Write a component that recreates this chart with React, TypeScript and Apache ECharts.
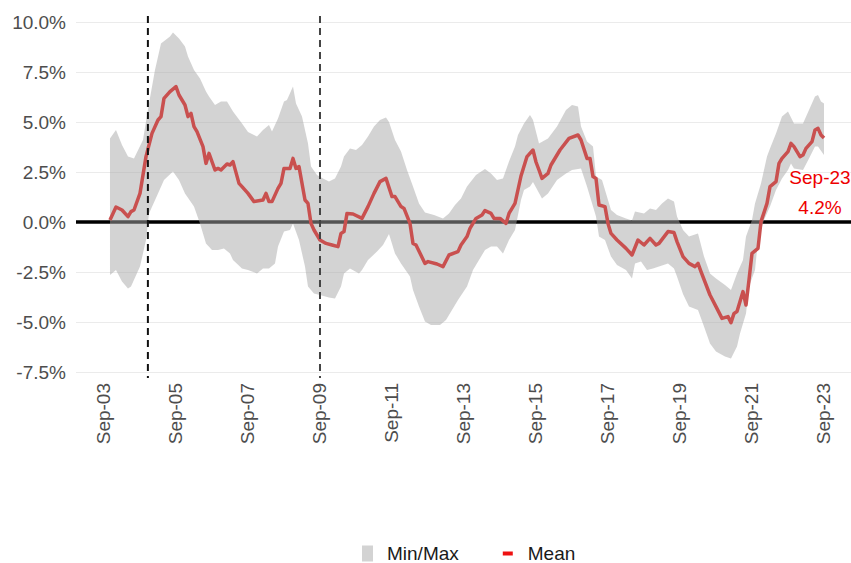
import React, { useEffect, useRef } from "react";
import * as echarts from "echarts";

// Monthly mean of the panel (%, date = YYYY-MM)
const meanData: [string, number][] = [
  ["2003-11", 0.1], ["2004-01", 0.75], ["2004-03", 0.6], ["2004-05", 0.27], ["2004-06", 0.52],
  ["2004-07", 0.6], ["2004-09", 1.43], ["2004-11", 3.27], ["2005-01", 4.43], ["2005-03", 5.1],
  ["2005-04", 5.27], ["2005-05", 6.18], ["2005-07", 6.52], ["2005-09", 6.77], ["2005-10", 6.35],
  ["2005-12", 5.85], ["2006-01", 5.27], ["2006-02", 5.43], ["2006-03", 4.77], ["2006-04", 4.52],
  ["2006-06", 3.77], ["2006-07", 2.93], ["2006-08", 3.43], ["2006-10", 2.6], ["2006-11", 2.68],
  ["2006-12", 2.6], ["2007-02", 2.9], ["2007-03", 2.85], ["2007-04", 3.02], ["2007-06", 1.93],
  ["2007-07", 1.77], ["2007-09", 1.43], ["2007-11", 1.02], ["2008-02", 1.1], ["2008-03", 1.43],
  ["2008-04", 1.02], ["2008-05", 1.02], ["2008-07", 1.68], ["2008-08", 1.93], ["2008-09", 2.68],
  ["2008-11", 2.68], ["2008-12", 3.18], ["2009-01", 2.68], ["2009-02", 2.77], ["2009-04", 1.1],
  ["2009-05", 0.93], ["2009-06", -0.07], ["2009-07", -0.4], ["2009-09", -0.9], ["2009-11", -1.07],
  ["2010-01", -1.15], ["2010-03", -1.23], ["2010-04", -0.57], ["2010-05", -0.48], ["2010-06", 0.43],
  ["2010-08", 0.4], ["2010-11", 0.18], ["2011-01", 0.77], ["2011-03", 1.43], ["2011-05", 2.02],
  ["2011-07", 2.18], ["2011-09", 1.27], ["2011-10", 1.27], ["2011-12", 0.77], ["2012-01", 0.68],
  ["2012-03", -0.07], ["2012-04", -1.07], ["2012-05", -1.15], ["2012-08", -2.07], ["2012-09", -1.98],
  ["2012-12", -2.1], ["2013-02", -2.23], ["2013-04", -1.65], ["2013-07", -1.48], ["2013-08", -1.15],
  ["2013-10", -0.73], ["2013-11", -0.32], ["2014-01", 0.18], ["2014-03", 0.35], ["2014-04", 0.57],
  ["2014-06", 0.43], ["2014-07", 0.18], ["2014-09", 0.18], ["2014-11", -0.07], ["2014-12", 0.43],
  ["2015-02", 0.93], ["2015-04", 2.3], ["2015-06", 3.27], ["2015-08", 3.6], ["2015-09", 3.0],
  ["2015-10", 2.6], ["2015-11", 2.18], ["2016-01", 2.43], ["2016-02", 2.85], ["2016-04", 3.35],
  ["2016-05", 3.6], ["2016-08", 4.18], ["2016-11", 4.35], ["2016-12", 4.1], ["2017-02", 3.18],
  ["2017-03", 3.18], ["2017-04", 2.27], ["2017-05", 2.18], ["2017-06", 0.85], ["2017-08", 0.77],
  ["2017-09", -0.07], ["2017-10", -0.57], ["2017-12", -0.9], ["2018-03", -1.32], ["2018-05", -1.65],
  ["2018-07", -0.9], ["2018-09", -1.15], ["2018-11", -0.82], ["2019-01", -1.15], ["2019-02", -1.07],
  ["2019-05", -0.48], ["2019-07", -0.53], ["2019-08", -0.98], ["2019-10", -1.73], ["2019-12", -2.07],
  ["2020-02", -2.23], ["2020-03", -2.07], ["2020-04", -2.48], ["2020-07", -3.65], ["2020-09", -4.23],
  ["2020-11", -4.82], ["2021-01", -4.73], ["2021-02", -5.03], ["2021-03", -4.57], ["2021-04", -4.48],
  ["2021-06", -3.48], ["2021-07", -4.15], ["2021-08", -2.9], ["2021-09", -1.57], ["2021-11", -1.32],
  ["2021-12", 0.02], ["2022-02", 0.93], ["2022-03", 1.77], ["2022-05", 2.02], ["2022-06", 2.93],
  ["2022-07", 3.18], ["2022-09", 3.52], ["2022-10", 3.93], ["2022-11", 3.77], ["2023-01", 3.27],
  ["2023-02", 3.35], ["2023-03", 3.68], ["2023-05", 4.02], ["2023-06", 4.6], ["2023-07", 4.68],
  ["2023-08", 4.35], ["2023-09", 4.2],
];

// Upper edge of the min/max ribbon
const maxData: [string, number][] = [
  ["2003-11", 4.18], ["2004-01", 4.6], ["2004-03", 3.85], ["2004-05", 3.27], ["2004-07", 3.18],
  ["2004-10", 4.1], ["2004-12", 5.93], ["2005-02", 7.6], ["2005-04", 8.93], ["2005-07", 9.27],
  ["2005-08", 9.47], ["2005-10", 9.18], ["2005-12", 8.77], ["2006-01", 8.27], ["2006-03", 7.6],
  ["2006-05", 7.18], ["2006-07", 6.52], ["2006-08", 6.27], ["2006-10", 5.85], ["2006-12", 6.02],
  ["2007-02", 6.02], ["2007-04", 5.52], ["2007-07", 4.93], ["2007-09", 4.5], ["2007-12", 4.27],
  ["2008-02", 4.6], ["2008-04", 4.85], ["2008-05", 4.52], ["2008-07", 5.18], ["2008-09", 6.02],
  ["2008-10", 6.1], ["2008-12", 6.77], ["2009-01", 5.93], ["2009-03", 5.27], ["2009-05", 3.93],
  ["2009-06", 2.77], ["2009-08", 2.35], ["2009-10", 2.18], ["2009-12", 2.02], ["2010-02", 2.18],
  ["2010-04", 2.77], ["2010-05", 3.27], ["2010-07", 3.68], ["2010-09", 3.6], ["2010-11", 3.85],
  ["2011-01", 4.27], ["2011-03", 4.77], ["2011-05", 5.1], ["2011-07", 5.23], ["2011-08", 5.0],
  ["2011-10", 4.1], ["2011-12", 3.52], ["2012-02", 2.6], ["2012-04", 1.77], ["2012-06", 0.93],
  ["2012-08", 0.47], ["2012-11", 0.35], ["2013-02", 0.18], ["2013-04", 0.43], ["2013-06", 0.85],
  ["2013-08", 1.18], ["2013-10", 1.77], ["2014-01", 2.35], ["2014-04", 2.65], ["2014-06", 2.43],
  ["2014-08", 2.1], ["2014-10", 2.18], ["2014-12", 3.02], ["2015-02", 3.77], ["2015-03", 4.35],
  ["2015-05", 4.93], ["2015-07", 5.35], ["2015-08", 5.1], ["2015-10", 3.93], ["2016-01", 4.18],
  ["2016-04", 4.77], ["2016-07", 5.6], ["2016-09", 5.85], ["2016-11", 5.77], ["2016-12", 4.77],
  ["2017-02", 4.02], ["2017-04", 3.77], ["2017-05", 2.27], ["2017-07", 2.1], ["2017-09", 1.1],
  ["2017-10", 0.6], ["2017-12", 0.35], ["2018-03", 0.18], ["2018-05", 0.07], ["2018-06", 0.52],
  ["2018-09", 0.43], ["2018-11", 0.68], ["2019-01", 0.6], ["2019-03", 0.93], ["2019-05", 1.18],
  ["2019-07", 1.02], ["2019-08", 0.27], ["2019-10", -0.4], ["2019-12", -0.73], ["2020-03", -0.57],
  ["2020-05", -1.73], ["2020-07", -2.57], ["2020-09", -2.82], ["2020-12", -3.15], ["2021-02", -3.4],
  ["2021-04", -2.57], ["2021-06", -1.9], ["2021-07", -0.73], ["2021-09", 0.1], ["2021-10", 0.93],
  ["2021-12", 1.93], ["2022-02", 3.27], ["2022-03", 3.68], ["2022-05", 4.43], ["2022-07", 5.27],
  ["2022-09", 5.52], ["2022-11", 4.93], ["2023-02", 4.93], ["2023-04", 5.6], ["2023-06", 6.27],
  ["2023-07", 6.35], ["2023-08", 6.02], ["2023-09", 5.93],
];

// Lower edge of the min/max ribbon
const minData: [string, number][] = [
  ["2003-11", -2.65], ["2004-01", -2.4], ["2004-03", -2.98], ["2004-05", -3.32], ["2004-06", -3.23],
  ["2004-09", -2.23], ["2004-11", -0.9], ["2004-12", 0.43], ["2005-03", 1.43], ["2005-05", 2.1],
  ["2005-08", 2.52], ["2005-10", 2.1], ["2005-12", 1.43], ["2006-03", 0.77], ["2006-05", -0.07],
  ["2006-06", -0.57], ["2006-07", -1.07], ["2006-09", -1.4], ["2006-11", -1.4], ["2007-01", -1.32],
  ["2007-03", -1.57], ["2007-04", -1.9], ["2007-07", -2.32], ["2007-09", -2.4], ["2007-12", -2.57],
  ["2008-02", -2.32], ["2008-04", -2.32], ["2008-06", -2.07], ["2008-07", -1.23], ["2008-09", -0.48],
  ["2008-11", -0.4], ["2008-12", -0.07], ["2009-02", -0.9], ["2009-04", -2.23], ["2009-05", -3.23],
  ["2009-07", -3.57], ["2009-09", -3.65], ["2009-12", -3.77], ["2010-02", -3.82], ["2010-04", -3.23],
  ["2010-05", -2.57], ["2010-07", -2.32], ["2010-10", -2.57], ["2010-11", -2.4], ["2011-01", -1.9],
  ["2011-04", -1.48], ["2011-06", -1.15], ["2011-08", -0.6], ["2011-10", -1.57], ["2011-12", -2.07],
  ["2012-03", -2.73], ["2012-04", -3.4], ["2012-06", -4.23], ["2012-08", -4.98], ["2012-10", -5.15],
  ["2013-01", -5.15], ["2013-03", -4.9], ["2013-05", -4.4], ["2013-07", -3.9], ["2013-10", -3.23],
  ["2013-12", -2.4], ["2014-02", -1.9], ["2014-04", -1.4], ["2014-06", -1.23], ["2014-08", -1.23],
  ["2014-10", -1.57], ["2014-12", -0.9], ["2015-02", -0.4], ["2015-04", 1.1], ["2015-05", 1.6],
  ["2015-07", 1.77], ["2015-08", 2.0], ["2015-11", 1.18], ["2016-01", 1.43], ["2016-04", 2.1],
  ["2016-07", 2.43], ["2016-09", 2.6], ["2016-12", 2.68], ["2017-02", 1.77], ["2017-03", 1.27],
  ["2017-05", 0.27], ["2017-06", -0.73], ["2017-08", -0.9], ["2017-10", -1.73], ["2017-12", -2.15],
  ["2018-03", -2.4], ["2018-05", -2.82], ["2018-06", -2.07], ["2018-08", -1.98], ["2018-10", -2.4],
  ["2018-12", -2.32], ["2019-02", -2.23], ["2019-05", -2.07], ["2019-07", -2.32], ["2019-08", -2.73],
  ["2019-10", -3.6], ["2019-12", -4.23], ["2020-03", -4.4], ["2020-05", -5.23], ["2020-07", -6.07],
  ["2020-09", -6.48], ["2020-12", -6.73], ["2021-02", -6.82], ["2021-04", -6.23], ["2021-05", -5.57],
  ["2021-07", -4.57], ["2021-08", -3.23], ["2021-10", -2.4], ["2021-11", -0.9], ["2022-01", 0.1],
  ["2022-03", 0.77], ["2022-05", 1.6], ["2022-07", 2.18], ["2022-09", 2.6], ["2022-10", 2.93],
  ["2022-11", 2.68], ["2023-02", 2.6], ["2023-04", 3.18], ["2023-06", 3.77], ["2023-07", 3.77],
  ["2023-09", 3.35],
];

// Dashed reference dates
const eventDates: string[] = ["2004-11-20", "2009-09-01"];
const eventColors: string[] = ["#111111", "#444444"];

// X tick labels (Sep of odd years)
const tickDates: string[] = [
  "2003-09", "2005-09", "2007-09", "2009-09", "2011-09", "2013-09",
  "2015-09", "2017-09", "2019-09", "2021-09", "2023-09",
];
const yTicks: number[] = [-7.5, -5, -2.5, 0, 2.5, 5, 7.5, 10];
const lastLabel = "Sep-23\n4.2%";

// month offset from Sep 2003
const toM = (s: string): number => {
  const p = s.split("-").map(Number);
  const day = p[2] ? (p[2] - 1) / 30 : 0;
  return (p[0] - 2003) * 12 + (p[1] - 9) + day;
};

const X_MIN = -9.33;
const X_MAX = 249;
const FONT = "Liberation Sans, Arial, sans-serif";
const FS = 19;

export default function App() {
  const ref = useRef<HTMLDivElement>(null);
  useEffect(() => {
    if (!ref.current) return;
    const chart = echarts.init(ref.current, null, { renderer: "svg" });
    const tickVals = tickDates.map(toM);
    const last = meanData[meanData.length - 1];
    const option: any = {
      animation: false,
      textStyle: { fontFamily: FONT },
      grid: { left: 76, right: 0, top: 22, bottom: 191, containLabel: false },
      xAxis: {
        type: "value",
        min: X_MIN,
        max: X_MAX,
        axisLine: { show: false },
        axisTick: { show: false },
        splitLine: { show: false },
        axisLabel: {
          customValues: tickVals,
          rotate: 90,
          margin: 11,
          fontSize: FS,
          color: "#4d4d4d",
          fontFamily: FONT,
          formatter: (v: number) => {
            const yy = (3 + Math.round(v / 12)) % 100;
            return "Sep-" + String(yy).padStart(2, "0");
          },
        },
      },
      yAxis: {
        type: "value",
        min: yTicks[0],
        max: yTicks[yTicks.length - 1],
        interval: 2.5,
        axisLine: { show: false },
        axisTick: { show: false },
        splitLine: { lineStyle: { color: "#ebebeb", width: 1 } },
        axisLabel: {
          margin: 10,
          fontSize: FS,
          color: "#4d4d4d",
          fontFamily: FONT,
          formatter: (v: number) => v.toFixed(1) + "%",
        },
      },
      legend: {
        left: 357,
        top: 539,
        padding: [5, 5, 0, 5],
        itemWidth: 20,
        itemHeight: 16,
        itemGap: 44,
        textStyle: { fontSize: FS, lineHeight: 19, color: "#1a1a1a", fontFamily: FONT },
        data: [
          {
            name: "Min/Max",
            icon: "path://M0,0 M20,16 M0,0 h11 v16 h-11 z",
            itemStyle: { color: "#d3d3d3" },
          },
          {
            name: "Mean",
            icon: "path://M0,0 M20,16 M0,6 h10 v4 h-10 z",
            itemStyle: { color: "#ee1111" },
          },
        ],
      },
      series: [
        {
          type: "line",
          name: "zero",
          z: 1,
          silent: true,
          symbol: "none",
          data: [[X_MIN, 0], [X_MAX, 0]],
          lineStyle: { color: "#000", width: 3.5 },
        },
        {
          type: "custom",
          name: "Min/Max",
          z: 2,
          silent: true,
          data: [[0, 0]],
          itemStyle: { color: "#d3d3d3" },
          renderItem: (_p: any, api: any) => {
            const up = maxData.map(([d, v]) => api.coord([toM(d), v]));
            const lo = minData
              .slice()
              .reverse()
              .map(([d, v]) => api.coord([toM(d), v]));
            return {
              type: "polygon",
              shape: { points: up.concat(lo) },
              style: { fill: "rgba(168,168,168,0.5)" },
            };
          },
        },
        {
          type: "line",
          name: "Mean",
          z: 3,
          symbol: "none",
          data: meanData.map(([d, v]) => [toM(d), v]),
          itemStyle: { color: "#ee1111" },
          lineStyle: { color: "#c9504f", width: 3.5, join: "round" },
          markPoint: {
            symbol: "circle",
            symbolSize: 0,
            data: [{ coord: [toM(last[0]), last[1]] }],
            label: {
              show: true,
              position: "inside",
              formatter: lastLabel,
              color: "#ee0000",
              fontSize: FS,
              lineHeight: 30,
              fontFamily: FONT,
              offset: [-4, 54],
            },
          },
        },
        {
          type: "custom",
          name: "events",
          z: 4,
          silent: true,
          clip: false,
          data: eventDates.map((d) => [toM(d), 0]),
          renderItem: (p: any, api: any) => {
            const x = api.value(0);
            const a = api.coord([x, 10.3]);
            const b = api.coord([x, -7.8]);
            return {
              type: "line",
              shape: { x1: a[0], y1: a[1], x2: b[0], y2: b[1] },
              style: { stroke: eventColors[p.dataIndex], lineWidth: 2, lineDash: [7, 5] },
            };
          },
        },
      ],
    };
    chart.setOption(option);
    return () => chart.dispose();
  }, []);
  return (
    <div
      ref={ref}
      style={{ position: "fixed", left: 0, top: 0, width: 851, height: 563, background: "#fff" }}
    />
  );
}
